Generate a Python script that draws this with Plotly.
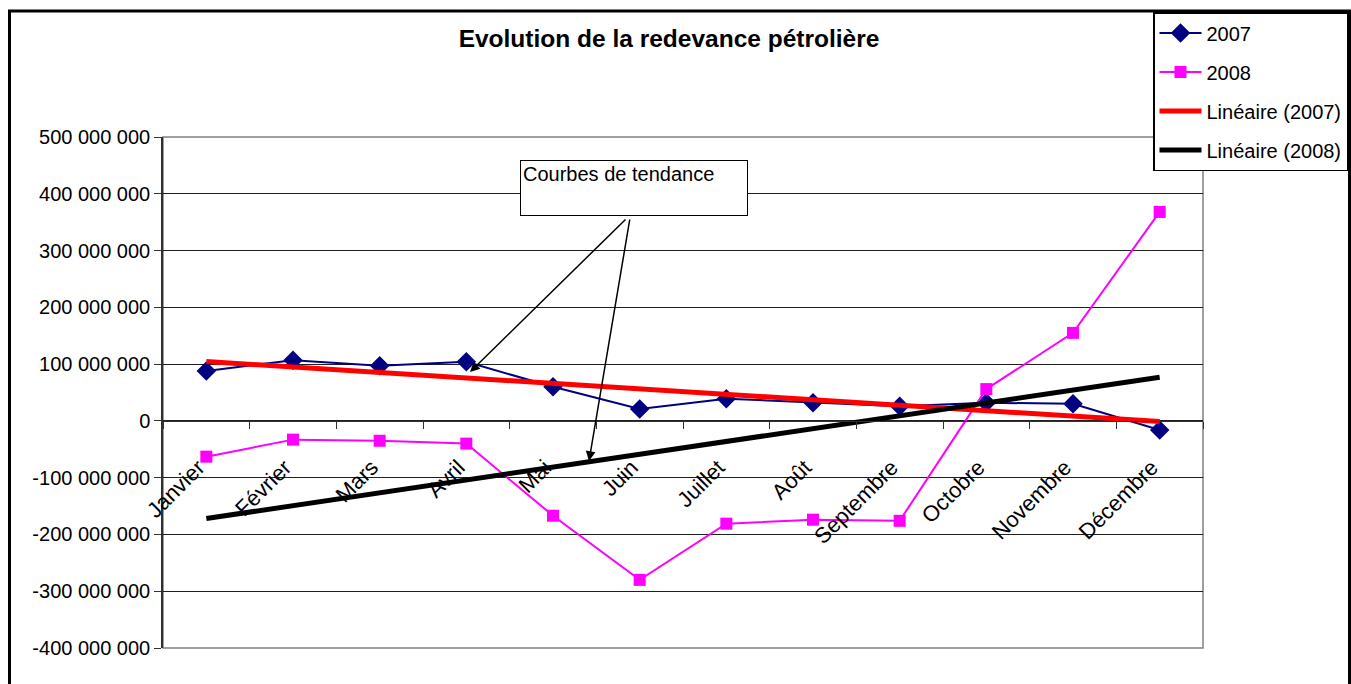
import numpy as np
import plotly.graph_objects as go

# ---- data ----
months = ["Janvier", "Février", "Mars", "Avril", "Mai", "Juin", "Juillet",
          "Août", "Septembre", "Octobre", "Novembre", "Décembre"]
v2007 = [88e6, 107e6, 97e6, 104e6, 60e6, 21e6, 39e6, 32e6, 26e6, 32e6, 30e6, -16e6]
v2008 = [-63e6, -33e6, -35e6, -40e6, -167e6, -280e6, -181e6, -174e6, -176e6, 56e6, 155e6, 368e6]
ytick_vals = [500e6, 400e6, 300e6, 200e6, 100e6, 0, -100e6, -200e6, -300e6, -400e6]
ytick_text = ["500 000 000", "400 000 000", "300 000 000", "200 000 000", "100 000 000",
              "0", "-100 000 000", "-200 000 000", "-300 000 000", "-400 000 000"]
title_text = "Evolution de la redevance pétrolière"
note_text = "Courbes de tendance"

# linear trend lines (Excel "Linéaire")
idx = np.arange(len(months))
c07 = np.polyfit(idx, v2007, 1)
c08 = np.polyfit(idx, v2008, 1)
t2007 = np.polyval(c07, idx)
t2008 = np.polyval(c08, idx)

FONT = "Liberation Sans, Arial, sans-serif"
W, H = 1351, 684
L, T = 163, 137
R = W - 1203
B = H - 648
pw, ph = W - L - R, H - T - B


def px_x(p):
    return (p - L) / pw


def px_y(p):
    return (H - B - p) / ph


fig = go.Figure()
fig.add_trace(go.Scatter(x=months, y=v2007, name="2007", mode="lines+markers",
                         line=dict(color="#000080", width=2),
                         marker=dict(symbol="diamond", size=15, color="#000080"),
                         legendgroup="a"))
fig.add_trace(go.Scatter(x=months, y=v2008, name="2008", mode="lines+markers",
                         line=dict(color="#FF00FF", width=2),
                         marker=dict(symbol="square", size=12, color="#FF00FF"),
                         legendgroup="b"))
fig.add_trace(go.Scatter(x=months, y=t2007, name="Linéaire (2007)", mode="lines",
                         line=dict(color="#FF0000", width=5), legendgroup="c"))
fig.add_trace(go.Scatter(x=months, y=t2008, name="Linéaire (2008)", mode="lines",
                         line=dict(color="#000000", width=5), legendgroup="d"))

ymin, ymax = -400e6, 500e6
zero_pos = (0 - ymin) / (ymax - ymin)

fig.update_layout(
    width=W, height=H,
    margin=dict(l=L, r=R, t=T, b=B, autoexpand=False),
    paper_bgcolor="white", plot_bgcolor="white",
    font=dict(family=FONT, size=20, color="black"),
    title=dict(text="<b>" + title_text + "</b>", x=px_x(669), xanchor="center",
               xref="paper", y=1 - 38 / H, yanchor="middle",
               font=dict(size=24.5, family=FONT, color="black")),
    showlegend=True,
    legend=dict(x=px_x(1153), y=px_y(12), xanchor="left", yanchor="top",
                bordercolor="black", borderwidth=1.5, bgcolor="white",
                font=dict(size=20, family=FONT), tracegroupgap=10,
                itemwidth=42, traceorder="grouped"),
    xaxis=dict(type="category", range=[-0.5, len(months) - 0.5],
               anchor="free", position=zero_pos,
               showline=True, linecolor="#303030", linewidth=1,
               ticks="outside", tickson="boundaries", ticklen=7,
               tickcolor="#303030", tickangle=-45, showgrid=False,
               ticklabelstandoff=24, ticklabelshift=-8,
               tickfont=dict(size=22, family=FONT, color="black")),
    yaxis=dict(range=[ymin, ymax], tickvals=ytick_vals, ticktext=ytick_text,
               showgrid=True, gridcolor="#202020", gridwidth=1,
               showline=True, linecolor="#303030", linewidth=1.5,
               ticks="outside", ticklen=7, tickcolor="#303030",
               zeroline=False,
               tickfont=dict(size=20, family=FONT, color="black")),
    shapes=[
        dict(type="rect", xref="paper", yref="paper", x0=0, x1=1, y0=0, y1=1,
             line=dict(color="#808080", width=1.5), layer="below"),
        dict(type="rect", xref="paper", yref="paper",
             x0=px_x(9.5), x1=px_x(1349.5), y0=px_y(11), y1=px_y(700),
             line=dict(color="black", width=3)),
    ],
)

# text box
fig.add_annotation(xref="paper", yref="paper", x=px_x(634), y=px_y(188),
                   text=note_text, showarrow=False, align="left", valign="top",
                   width=222, height=50, bordercolor="black", borderwidth=1,
                   borderpad=2, bgcolor="white", xanchor="center", yanchor="middle",
                   font=dict(size=20, family=FONT, color="black"))


def xi(p):
    return (p - L) / (pw / len(months)) - 0.5


def yv(p):
    return ymin + (H - B - p) / ph * (ymax - ymin)


for head, tail in [((470, 372), (627, 218)), ((589, 461), (630, 218))]:
    fig.add_annotation(x=xi(head[0]), y=yv(head[1]), xref="x", yref="y",
                       ax=xi(tail[0]), ay=yv(tail[1]), axref="x", ayref="y",
                       text="", showarrow=True, arrowhead=2, arrowsize=1.3,
                       arrowwidth=1.5, arrowcolor="black", standoff=0)

fig.write_html("out.html", config={"displayModeBar": False},
               post_script="document.body.style.margin='0';"
                           "document.body.style.overflow='hidden';")
